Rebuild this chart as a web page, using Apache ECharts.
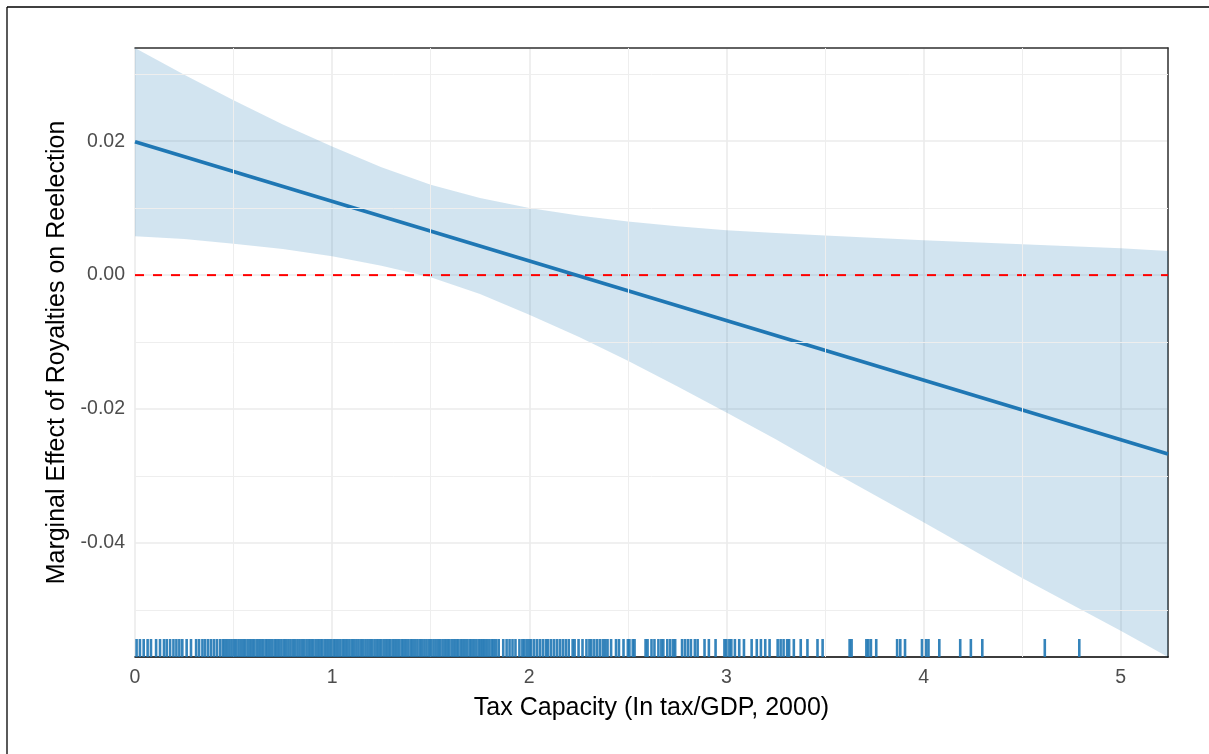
<!DOCTYPE html>
<html><head><meta charset="utf-8">
<script src="https://cdn.jsdelivr.net/npm/echarts@6/dist/echarts.min.js"></script>
<style>html,body{margin:0;padding:0;background:#fff}#c{width:1209px;height:754px}</style>
</head><body><div id="c"></div>
<script>
// ---- data ----
const xTicks = [0, 1, 2, 3, 4, 5];
const yTicks = [-0.04, -0.02, 0, 0.02];
const xMinor = [0.5, 1.5, 2.5, 3.5, 4.5];
const yMinor = [-0.05, -0.03, -0.01, 0.01, 0.03];

const bandX     = [0, 0.25, 0.5, 0.75, 1, 1.25, 1.5, 1.75, 2, 2.25, 2.5, 2.75, 3, 3.25, 3.5, 4, 4.5, 5, 5.24];
const bandUpper = [0.0339, 0.0299, 0.0261, 0.0225, 0.0192, 0.0161, 0.0135, 0.0115, 0.0100, 0.0089, 0.0080, 0.0073, 0.0067, 0.0063, 0.0059, 0.0052, 0.0046, 0.0040, 0.0036];
const bandLower = [0.0058, 0.0054, 0.0047, 0.0039, 0.0028, 0.0014, -0.0003, -0.0028, -0.0059, -0.0092, -0.0128, -0.0166, -0.0205, -0.0245, -0.0287, -0.0369, -0.0452, -0.0531, -0.0570];

const lineX = [0, 5.24];
const lineY = [0.0199, -0.0267];

const refX = [0, 5.24];
const refY = [0, 0];

const rugX = [
  0.008, 0.025, 0.044, 0.064, 0.081, 0.107, 0.127, 0.147, 0.161, 0.178, 0.195, 0.21, 0.225, 0.24, 0.262,
  0.284, 0.31, 0.325, 0.342, 0.355, 0.37, 0.385, 0.40, 0.415, 0.431,
  0.445, 0.456, 0.468, 0.479, 0.49, 0.502, 0.513, 0.525, 0.536, 0.548, 0.559, 0.571, 0.582, 0.594, 0.605,
  0.617, 0.628, 0.64, 0.651, 0.663, 0.674, 0.686, 0.697, 0.709, 0.72, 0.732, 0.743, 0.755, 0.766, 0.778,
  0.789, 0.801, 0.812, 0.824, 0.835, 0.847, 0.858, 0.87, 0.881, 0.893, 0.904, 0.916, 0.927, 0.939, 0.95,
  0.962, 0.973, 0.985, 0.996, 1.008, 1.019, 1.031, 1.042, 1.054, 1.065, 1.077, 1.088, 1.1, 1.111, 1.123,
  1.134, 1.146, 1.157, 1.169, 1.18, 1.192, 1.203, 1.215, 1.226, 1.238, 1.249, 1.261, 1.272, 1.284, 1.295,
  1.307, 1.318, 1.33, 1.341, 1.353, 1.364, 1.376, 1.387, 1.399, 1.41, 1.422, 1.433, 1.445, 1.456, 1.468,
  1.479, 1.491, 1.502, 1.514, 1.525, 1.537, 1.548, 1.56, 1.571, 1.583, 1.594, 1.606, 1.617, 1.629, 1.64,
  1.652, 1.663, 1.675, 1.686, 1.698, 1.709, 1.721, 1.732, 1.744,
  1.755, 1.765, 1.775, 1.787, 1.798, 1.81, 1.82, 1.832, 1.845, 1.868, 1.885, 1.90, 1.915, 1.93, 1.95,
  1.965, 1.975, 1.987, 2.0, 2.01, 2.025, 2.04, 2.055, 2.07, 2.085, 2.095, 2.11, 2.125, 2.14, 2.155,
  2.17, 2.185, 2.20, 2.22, 2.23, 2.25, 2.27, 2.29, 2.305, 2.315, 2.33, 2.345, 2.36, 2.375, 2.386,
  2.397, 2.415, 2.44, 2.455, 2.478, 2.50, 2.508, 2.525, 2.534,
  2.59, 2.60, 2.62, 2.635, 2.655, 2.67, 2.68, 2.70, 2.715, 2.73, 2.74, 2.775, 2.79, 2.805, 2.82,
  2.84, 2.854, 2.889, 2.911, 2.945, 2.99, 3.0, 3.015, 3.025, 3.043, 3.065, 3.089, 3.128, 3.154, 3.175,
  3.197, 3.219, 3.26, 3.275, 3.29, 3.308, 3.318, 3.342, 3.377, 3.411, 3.462, 3.488, 3.625, 3.635, 3.71,
  3.72, 3.733, 3.76, 3.866, 3.882, 3.906, 3.992, 4.013, 4.025, 4.08, 4.186, 4.24, 4.298, 4.615, 4.79
];

const xTitle = 'Tax Capacity (In tax/GDP, 2000)';
const yTitle = 'Marginal Effect of Royalties on Reelection';

const X_MIN = 0, X_MAX = 5.24, Y_MIN = -0.057, Y_MAX = 0.0339;

// ---- chart ----
const FONT = 'Liberation Sans, Arial, Helvetica, sans-serif';
const BLUE = '#1f77b4';
const near = (arr, v) => arr.some(t => Math.abs(t - v) < 1e-9);

const chart = echarts.init(document.getElementById('c'), null, {renderer: 'canvas'});

const option = {
  animation: false,
  backgroundColor: '#ffffff',
  textStyle: {fontFamily: FONT},
  grid: {left: 135, right: 41, top: 48, bottom: 97, containLabel: false},
  graphic: [
    {type: 'line', shape: {x1: 7, y1: 7, x2: 1209, y2: 7}, style: {stroke: '#000', lineWidth: 1.3}, silent: true},
    {type: 'line', shape: {x1: 7, y1: 7, x2: 7, y2: 754}, style: {stroke: '#000', lineWidth: 1.3}, silent: true}
  ],
  xAxis: [{
    type: 'value', min: X_MIN, max: X_MAX, position: 'bottom',
    name: xTitle, nameLocation: 'middle', nameGap: 39,
    nameTextStyle: {fontSize: 25, color: '#000', fontFamily: FONT},
    axisLine: {show: true, onZero: false, lineStyle: {color: '#000', width: 1.6}},
    axisTick: {show: false},
    axisLabel: {color: '#4d4d4d', fontSize: 19.5, margin: 11, fontFamily: FONT,
      showMaxLabel: false,
      formatter: v => near(xTicks, v) ? String(Math.round(v)) : ''},
    splitLine: {show: true, lineStyle: {color: '#ebebeb', width: 1.6}}
  }, {
    type: 'value', min: X_MIN, max: X_MAX, position: 'top',
    axisLine: {show: true, onZero: false, lineStyle: {color: '#333', width: 1.5}},
    axisTick: {show: false}, axisLabel: {show: false}, splitLine: {show: false}
  }],
  yAxis: [{
    type: 'value', min: Y_MIN, max: Y_MAX, position: 'left',
    name: yTitle, nameLocation: 'middle', nameGap: 54,
    nameTextStyle: {fontSize: 25, color: '#000', fontFamily: FONT},
    axisLine: {show: false},
    axisTick: {show: false},
    axisLabel: {color: '#4d4d4d', fontSize: 19.5, margin: 10, fontFamily: FONT,
      showMinLabel: false, showMaxLabel: false,
      formatter: v => near(yTicks, v) ? v.toFixed(2) : ''},
    splitLine: {show: true, lineStyle: {color: '#ebebeb', width: 1.6}}
  }, {
    type: 'value', min: Y_MIN, max: Y_MAX, position: 'right',
    axisLine: {show: true, onZero: false, lineStyle: {color: '#333', width: 1.5}},
    axisTick: {show: false}, axisLabel: {show: false}, splitLine: {show: false}
  }],
  series: [
    {
      name: 'minorGrid', type: 'line', data: [], z: 1, silent: true,
      markLine: {
        silent: true, symbol: ['none', 'none'], label: {show: false}, animation: false,
        lineStyle: {color: '#eeeeee', width: 1, type: 'solid'},
        emphasis: {disabled: true},
        data: [...yMinor.map(v => ({yAxis: v})), ...xMinor.map(v => ({xAxis: v}))]
      }
    },
    {
      name: 'band', type: 'custom', z: 2, silent: true,
      data: [[bandX[0], bandLower[0]]],
      renderItem: (params, api) => {
        const pts = [];
        for (let i = 0; i < bandX.length; i++) pts.push(api.coord([bandX[i], bandUpper[i]]));
        for (let i = bandX.length - 1; i >= 0; i--) pts.push(api.coord([bandX[i], bandLower[i]]));
        return {type: 'polygon', shape: {points: pts},
          style: {fill: 'rgba(31,119,180,0.2)', stroke: null}};
      }
    },
    {
      name: 'zero', type: 'line', z: 3, silent: true,
      data: refX.map((x, i) => [x, refY[i]]), symbol: 'none',
      lineStyle: {color: '#ff0000', width: 2, type: [9, 9]}
    },
    {
      name: 'effect', type: 'line', z: 4, silent: true,
      data: lineX.map((x, i) => [x, lineY[i]]), symbol: 'none',
      lineStyle: {color: BLUE, width: 3.8}
    },
    {
      name: 'rug', type: 'custom', z: 5, silent: true,
      data: rugX.map(x => [x, Y_MIN]),
      renderItem: (params, api) => {
        const p = api.coord([api.value(0), api.value(1)]);
        return {type: 'line', shape: {x1: p[0], y1: p[1], x2: p[0], y2: p[1] - 18},
          style: {stroke: BLUE, lineWidth: 2.6, opacity: 0.9}};
      }
    }
  ]
};
chart.setOption(option);
</script>
</body></html>
